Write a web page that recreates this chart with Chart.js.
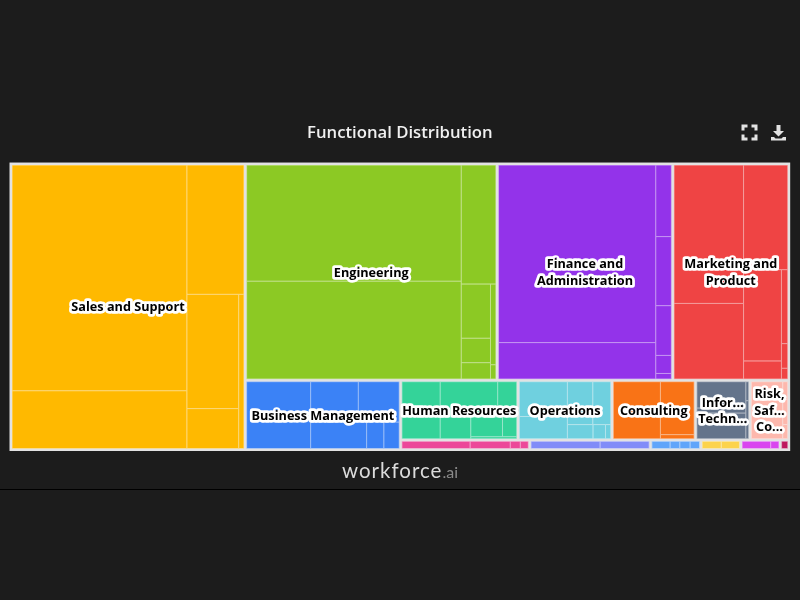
<!DOCTYPE html>
<html lang="en">
<head>
<meta charset="UTF-8">
<title>Functional Distribution</title>
<script src="https://cdn.jsdelivr.net/npm/chart.js@4/dist/chart.umd.min.js"></script>
<style>
  html, body { margin: 0; background: #1c1c1c; }
  body { width: 800px; height: 600px; position: relative; overflow: hidden; }
  canvas { position: absolute; left: 0; top: 0; }
  .icon { position: absolute; top: 124px; width: 17px; height: 17px; }
  .brand { position: absolute; left: 0; width: 800px; top: 458px; text-align: center; font: 400 20.5px Lato, sans-serif; letter-spacing: 1px; color: #dcdcdc; }
  .brand span { color: #8a8a8a; font-size: 16px; letter-spacing: 0; }
  .rule { position: absolute; left: 0; width: 800px; top: 489px; height: 1px; background: #000; }
</style>
</head>
<body>
<canvas id="chart" width="800" height="600"></canvas>
<svg class="icon" style="left:741px" viewBox="0 0 17 17" fill="none" stroke="#e2e2e2" stroke-width="3">
  <path d="M2 6.500V2h4.500M10.500 2H15v4.500M15 10.500V15h-4.500M6.500 15H2v-4.500"/>
</svg>
<svg class="icon" style="left:770px" viewBox="0 0 17 17" fill="#e2e2e2">
  <path d="M6.500 1h4v6h3.500l-5.500 5.500L3 7h3.500zM1 13h3l1.500 1.500h6L13 13h3v3.500H1z"/>
</svg>
<div class="brand">workforce<span>.ai</span></div>
<div class="rule"></div>

<script>
// nested arrays alternate direction: left-right, then top-bottom, and so on
const salesValues = [[402.7, 103.1], [75.4, [[60.4, 21.1], 8.4]]];
const engineeringValues = [[255.0, 214.8], [42.2, [[16.2, 7.3, 4.9], [4.5, 0.8]]]];
const financeValues = [[286.7, 58.9], [11.5, 11.1, 8.0, 2.9, 0.9]];
const marketingValues = [[99.7, 54.5], [47.8, [[35.8, 7.1], [4.8, 1.6, 0.7]]]];
const businessValues = [45.2, [[20.4, 17.5], [15.6, 4.8, 4.3]]];
const hrValues = [23.4, [[21.7, 7.2], [7.1, [[6.7, 3.0], 1.0]]]];
const operationsValues = [[18.0, 11.5], [[11.7, 8.3], [3.9, 1.9, 0.8]]];
const consultingValues = [29.0, [19.3, 1.5]];
const itValues = [[14.2, 2.7, 13.8], [0.6, 1.2]];
const riskValues = [20.1, [1.0, 1.4, 0.8]];
const pinkValues = [6.8, 4.0, 1.0, 0.8];
const indigoValues = [6.9, 4.9];
const skyValues = [1.88, 1.0, 1.06, 0.97];
const amberValues = [2.0, 1.9];
const magentaValues = [2.99, 0.87];
const crimsonValues = [0.85];

const groupValues = [salesValues, engineeringValues, financeValues, marketingValues, businessValues,
  hrValues, operationsValues, consultingValues, itValues, riskValues,
  pinkValues, indigoValues, skyValues, amberValues, magentaValues, crimsonValues];
const groupColors = ['#ffb900', '#8cc924', '#9333ea', '#ef4444', '#3b82f6',
  '#34d399', '#6fd0df', '#f97316', '#64748b', '#fdb8ad',
  '#ec4899', '#818cf8', '#60a5fa', '#fcd34d', '#d946ef', '#be185d'];
const groupLabels = [['Sales and Support'], ['Engineering'], ['Finance and', 'Administration'], ['Marketing and', 'Product'],
  ['Business Management'], ['Human Resources'], ['Operations'], ['Consulting'], ['Infor...', 'Techn...'], ['Risk,', 'Saf...', 'Co...'],
  [], [], [], [], [], []];
// which groups sit next to each other, same alternating rule
const groupOrder = [0, [[1, 2, 3], [4, [[5, 6, 7, 8, 9], [10, 11, 12, 13, 14, 15]]]]];

const GAP = 1.3;
const FRAME = 1.2;
const LINE_H = 16.5;

function weigh(node, leaf) {
  return Array.isArray(node) ? node.reduce((s, c) => s + weigh(c, leaf), 0) : leaf(node);
}

function split(node, box, across, leaf, emit) {
  if (!Array.isArray(node)) return emit(node, box);
  const total = weigh(node, leaf);
  let pos = across ? box.x0 : box.y0;
  node.forEach(child => {
    const size = (across ? box.x1 - box.x0 : box.y1 - box.y0) * weigh(child, leaf) / total;
    const sub = across
      ? { x0: pos, x1: pos + size, y0: box.y0, y1: box.y1 }
      : { x0: box.x0, x1: box.x1, y0: pos, y1: pos + size };
    split(child, sub, !across, leaf, emit);
    pos += size;
  });
}

function buildCells() {
  const cells = [];
  const groupWeight = i => weigh(groupValues[i], v => v);
  split(groupOrder, { x0: 0, x1: 100, y0: 0, y1: 100 }, true, groupWeight, (i, group) => {
    split(groupValues[i], { x0: 0, x1: 1, y0: 0, y1: 1 }, true, v => v, (v, part) => {
      cells.push({ group: i, value: v, part, box: group });
    });
  });
  return cells;
}

class TreeCell extends Chart.Element {
  static id = 'treeCell';
  static defaults = {};

  draw(ctx) {
    const w = this.x1 - this.x0, h = this.y1 - this.y0;
    ctx.fillStyle = this.color;
    ctx.fillRect(this.x0, this.y0, w, h);
    ctx.fillStyle = 'rgba(255,255,255,.55)';
    ctx.fillRect(this.x0, this.y0, w, h);
    ctx.fillStyle = this.color;
    ctx.fillRect(this.x0 + 0.5, this.y0 + 0.5, Math.max(w - 1, 0), Math.max(h - 1, 0));
  }
}

class TreemapController extends Chart.DatasetController {
  static id = 'treemap';
  static defaults = { dataElementType: 'treeCell' };

  groupPixels(box) {
    const { xScale, yScale } = this._cachedMeta;
    return {
      x0: xScale.getPixelForValue(box.x0) + GAP,
      x1: xScale.getPixelForValue(box.x1) - GAP,
      y0: yScale.getPixelForValue(box.y0) + GAP,
      y1: yScale.getPixelForValue(box.y1) - GAP
    };
  }

  update() {
    const cells = this.getDataset().data;
    this._cachedMeta.data.forEach((el, i) => {
      const c = cells[i];
      const g = this.groupPixels(c.box);
      el.x0 = g.x0 + c.part.x0 * (g.x1 - g.x0);
      el.x1 = g.x0 + c.part.x1 * (g.x1 - g.x0);
      el.y0 = g.y0 + c.part.y0 * (g.y1 - g.y0);
      el.y1 = g.y0 + c.part.y1 * (g.y1 - g.y0);
      el.color = groupColors[c.group];
    });
  }

  draw() {
    const ctx = this._ctx;
    const area = this.chart.chartArea;
    ctx.fillStyle = '#e2e2e2';
    ctx.fillRect(area.left - FRAME, area.top - FRAME, area.width + 2 * FRAME, area.height + 2 * FRAME);
    super.draw();

    // group names on top of the cells
    ctx.save();
    ctx.font = 'bold 12.7px "Open Sans"';
    ctx.textAlign = 'center';
    ctx.textBaseline = 'middle';
    ctx.lineJoin = 'round';
    const seen = new Set();
    this.getDataset().data.forEach(c => {
      if (seen.has(c.group)) return;
      seen.add(c.group);
      const g = this.groupPixels(c.box);
      const lines = groupLabels[c.group];
      const cx = (g.x0 + g.x1) / 2;
      const top = (g.y0 + g.y1) / 2 + 1 - (lines.length - 1) * LINE_H / 2;
      lines.forEach((text, i) => {
        ctx.lineWidth = 5.5;
        ctx.strokeStyle = '#fff';
        ctx.strokeText(text, cx, top + i * LINE_H);
      });
      lines.forEach((text, i) => {
        ctx.fillStyle = '#000';
        ctx.fillText(text, cx, top + i * LINE_H);
      });
    });
    ctx.restore();
  }
}

Chart.register(TreemapController, TreeCell);

new Chart(document.getElementById('chart'), {
  type: 'treemap',
  data: { datasets: [{ data: buildCells(), parsing: false, clip: false }] },
  options: {
    responsive: false,
    animation: false,
    devicePixelRatio: 1,
    layout: { padding: { left: 10.7, right: 11, top: 0, bottom: 150.2 } },
    scales: {
      x: { type: 'linear', display: false, min: 0, max: 100 },
      y: { type: 'linear', display: false, min: 0, max: 100, reverse: true }
    },
    plugins: {
      legend: { display: false },
      tooltip: { enabled: false },
      title: {
        display: true,
        text: 'Functional Distribution',
        color: '#f0f0f0',
        font: { family: '"Open Sans"', size: 16.7, weight: '600' },
        padding: { top: 123, bottom: 20.7 }
      }
    }
  }
});
</script>
</body>
</html>
